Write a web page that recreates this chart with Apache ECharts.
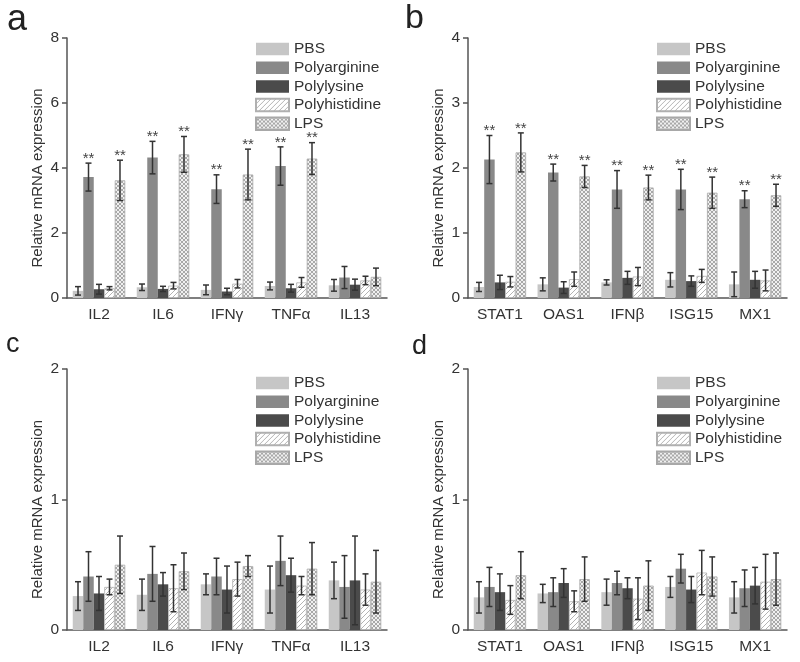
<!DOCTYPE html>
<html>
<head>
<meta charset="utf-8">
<script src="https://cdn.jsdelivr.net/npm/echarts@6/dist/echarts.min.js"></script>
<style>
  html, body { margin: 0; padding: 0; background: #fff; }
  #chart { width: 800px; height: 662px; }
</style>
</head>
<body>
<div id="chart"></div>
<script>
// categories
const catsAC = ['IL2', 'IL6', 'IFNγ', 'TNFα', 'IL13'];
const catsBD = ['STAT1', 'OAS1', 'IFNβ', 'ISG15', 'MX1'];
const seriesNames = ['PBS', 'Polyarginine', 'Polylysine', 'Polyhistidine', 'LPS'];

// means, one row per series (PBS, Polyarginine, Polylysine, Polyhistidine, LPS)
const meanA = [
  [0.22, 0.33, 0.25, 0.37, 0.39],
  [3.72, 4.32, 3.35, 4.06, 0.63],
  [0.27, 0.28, 0.20, 0.30, 0.41],
  [0.30, 0.38, 0.44, 0.48, 0.54],
  [3.62, 4.42, 3.80, 4.29, 0.65]
];
const errA = [
  [0.13, 0.10, 0.15, 0.12, 0.18],
  [0.43, 0.50, 0.44, 0.59, 0.34],
  [0.15, 0.08, 0.10, 0.12, 0.17],
  [0.05, 0.10, 0.13, 0.15, 0.13],
  [0.62, 0.55, 0.78, 0.49, 0.27]
];
const meanB = [
  [0.17, 0.21, 0.24, 0.28, 0.21],
  [2.13, 1.93, 1.67, 1.67, 1.52],
  [0.24, 0.16, 0.31, 0.26, 0.28],
  [0.25, 0.29, 0.33, 0.34, 0.27],
  [2.24, 1.87, 1.70, 1.62, 1.58]
];
const errB = [
  [0.07, 0.10, 0.04, 0.11, 0.19],
  [0.37, 0.13, 0.29, 0.31, 0.13],
  [0.11, 0.09, 0.10, 0.08, 0.13],
  [0.08, 0.11, 0.14, 0.10, 0.16],
  [0.30, 0.17, 0.19, 0.24, 0.17]
];
const meanC = [
  [0.26, 0.27, 0.35, 0.31, 0.38],
  [0.41, 0.43, 0.41, 0.53, 0.33],
  [0.28, 0.35, 0.31, 0.42, 0.38],
  [0.33, 0.32, 0.39, 0.34, 0.31],
  [0.50, 0.45, 0.49, 0.47, 0.37]
];
const errC = [
  [0.11, 0.12, 0.08, 0.18, 0.14],
  [0.19, 0.21, 0.14, 0.19, 0.24],
  [0.13, 0.09, 0.18, 0.13, 0.34],
  [0.06, 0.18, 0.13, 0.07, 0.12],
  [0.22, 0.14, 0.08, 0.20, 0.24]
];
const meanD = [
  [0.25, 0.28, 0.29, 0.33, 0.25],
  [0.33, 0.29, 0.36, 0.47, 0.32],
  [0.29, 0.36, 0.32, 0.31, 0.34],
  [0.23, 0.22, 0.24, 0.44, 0.37],
  [0.42, 0.39, 0.34, 0.41, 0.39]
];
const errD = [
  [0.12, 0.07, 0.10, 0.08, 0.12],
  [0.15, 0.11, 0.09, 0.11, 0.14],
  [0.14, 0.11, 0.08, 0.10, 0.14],
  [0.11, 0.08, 0.16, 0.17, 0.21],
  [0.18, 0.17, 0.19, 0.15, 0.20]
];
// "**" marks: [seriesIndex, categoryIndex]
const starsA = [[1, 0], [1, 1], [1, 2], [1, 3], [4, 0], [4, 1], [4, 2], [4, 3]];
const starsB = [[1, 0], [1, 1], [1, 2], [1, 3], [1, 4], [4, 0], [4, 1], [4, 2], [4, 3], [4, 4]];
// y axis ranges
const yMax = [8, 4, 2, 2];
const yStep = [2, 1, 1, 1];

const FONT = 'Liberation Sans, Arial, sans-serif';
const CAT_GAP = 0.18;

// fill patterns for the hatched bars
function hatch() {
  const c = document.createElement('canvas');
  c.width = c.height = 5;
  const g = c.getContext('2d');
  g.fillStyle = '#ffffff';
  g.fillRect(0, 0, 5, 5);
  g.strokeStyle = '#b4b4b4';
  g.lineWidth = 1;
  g.beginPath();
  g.moveTo(0, 5); g.lineTo(5, 0);
  g.moveTo(-1, 1); g.lineTo(1, -1);
  g.moveTo(4, 6); g.lineTo(6, 4);
  g.stroke();
  return c;
}
function crossHatch() {
  const c = document.createElement('canvas');
  c.width = c.height = 4;
  const g = c.getContext('2d');
  g.fillStyle = '#f0f0f0';
  g.fillRect(0, 0, 4, 4);
  g.fillStyle = '#a8a8a8';
  for (let i = 0; i < 4; i++) {
    g.fillRect(i, i, 1, 1);
    g.fillRect(3 - i, i, 1, 1);
  }
  return c;
}

const styles = [
  { color: '#c6c6c6' },
  { color: '#898989' },
  { color: '#4b4b4b' },
  { color: { image: hatch(), repeat: 'repeat' }, borderColor: '#b0b0b0', borderWidth: 0.8 },
  { color: { image: crossHatch(), repeat: 'repeat' }, borderColor: '#a8a8a8', borderWidth: 0.8 }
];

const grids = [
  { left: 67, top: 38, width: 320, height: 260 },
  { left: 468, top: 38, width: 319, height: 260 },
  { left: 67, top: 369, width: 320, height: 261 },
  { left: 468, top: 369, width: 319, height: 261 }
];
const panels = [
  { cats: catsAC, mean: meanA, err: errA, stars: starsA },
  { cats: catsBD, mean: meanB, err: errB, stars: starsB },
  { cats: catsAC, mean: meanC, err: errC, stars: [] },
  { cats: catsBD, mean: meanD, err: errD, stars: [] }
];

const xAxis = [], yAxis = [], series = [], legend = [];

panels.forEach((p, k) => {
  xAxis.push({
    type: 'category', gridIndex: k, data: p.cats,
    axisLine: { lineStyle: { color: '#555', width: 1.5 } },
    axisTick: { alignWithLabel: true, length: 5, lineStyle: { color: '#555', width: 1.5 } },
    axisLabel: { color: '#333', fontSize: 15.5, fontFamily: FONT, margin: 9 }
  });
  yAxis.push({
    type: 'value', gridIndex: k, min: 0, max: yMax[k], interval: yStep[k],
    name: 'Relative mRNA expression', nameLocation: 'middle', nameGap: 22,
    nameTextStyle: { color: '#333', fontSize: 15, fontFamily: FONT, padding: [0, 20, 0, 0] },
    axisLine: { show: true, lineStyle: { color: '#555', width: 1.5 } },
    axisTick: { show: true, length: 5, lineStyle: { color: '#555', width: 1.5 } },
    axisLabel: { color: '#333', fontSize: 15.5, fontFamily: FONT, margin: 8 },
    splitLine: { show: false }
  });
  seriesNames.forEach((name, s) => {
    series.push({
      name: name, type: 'bar', xAxisIndex: k, yAxisIndex: k,
      data: p.mean[s], barGap: '0%', barCategoryGap: (CAT_GAP * 100) + '%',
      itemStyle: styles[s], silent: true
    });
  });
  // error bars and significance marks
  const eb = [];
  p.mean.forEach((row, s) => row.forEach((v, c) => {
    const star = p.stars.some(t => t[0] === s && t[1] === c) ? 1 : 0;
    eb.push([c, s, v, p.err[s][c], star]);
  }));
  series.push({
    name: 'err' + k, type: 'custom', xAxisIndex: k, yAxisIndex: k, silent: true,
    data: eb, encode: { x: 0, y: 2 }, z: 5,
    renderItem: function (params, api) {
      const c = api.value(0), s = api.value(1), m = api.value(2), e = api.value(3);
      const band = api.size([1, 0])[0];
      const bw = band * (1 - CAT_GAP) / 5;
      const x = api.coord([c, 0])[0] + (s - 2) * bw;
      const yTop = api.coord([c, m + e])[1];
      const yBot = api.coord([c, Math.max(m - e, 0)])[1];
      const cap = 3;
      const ls = { stroke: '#333', lineWidth: 1.5 };
      const kids = [
        { type: 'line', shape: { x1: x, y1: yTop, x2: x, y2: yBot }, style: ls },
        { type: 'line', shape: { x1: x - cap, y1: yTop, x2: x + cap, y2: yTop }, style: ls },
        { type: 'line', shape: { x1: x - cap, y1: yBot, x2: x + cap, y2: yBot }, style: ls }
      ];
      if (api.value(4)) {
        kids.push({
          type: 'text',
          style: { text: '**', x: x, y: yTop + 3, align: 'center', verticalAlign: 'bottom',
                   fill: '#444', font: '15px ' + FONT }
        });
      }
      return { type: 'group', children: kids };
    }
  });
  legend.push({
    data: seriesNames, orient: 'vertical', padding: 0,
    left: [255, 656, 255, 656][k], top: [41, 41, 375, 375][k],
    itemWidth: 33, itemHeight: 12.5, itemGap: 2.7, icon: 'rect',
    textStyle: { color: '#333', fontSize: 15.5, fontFamily: FONT },
    selectedMode: false
  });
});

// panel letters (y is the top of the text box)
const letters = [
  { t: 'a', x: 7, y: 2, s: 36 },
  { t: 'b', x: 405, y: 2, s: 34 },
  { t: 'c', x: 6, y: 331, s: 27 },
  { t: 'd', x: 412, y: 333, s: 27 }
];

const chart = echarts.init(document.getElementById('chart'));
chart.setOption({
  animation: false,
  backgroundColor: '#fff',
  grid: grids,
  xAxis: xAxis,
  yAxis: yAxis,
  legend: legend,
  series: series,
  graphic: letters.map(l => ({
    type: 'text', x: l.x, y: l.y,
    style: { text: l.t, fill: '#222', font: l.s + 'px ' + FONT }
  }))
});
</script>
</body>
</html>
